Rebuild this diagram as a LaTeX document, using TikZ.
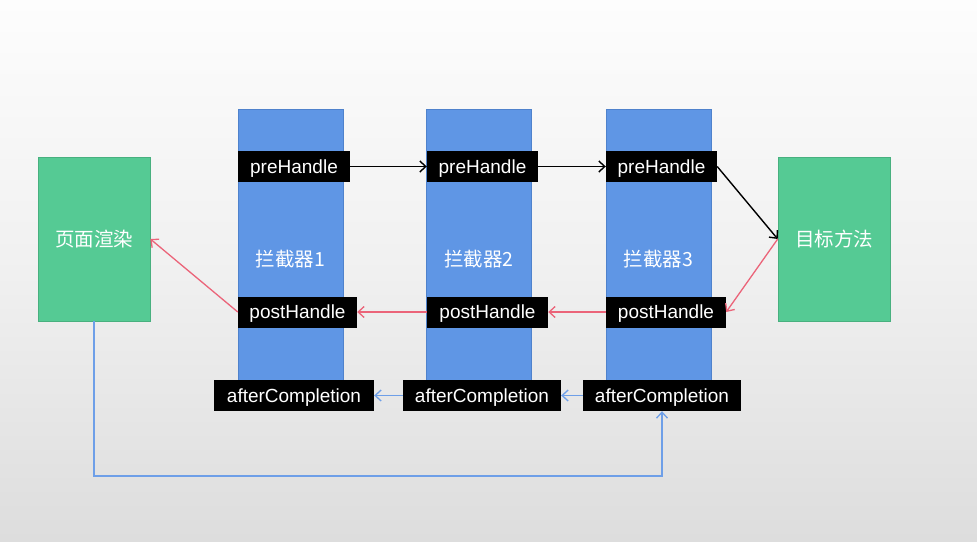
\documentclass[tikz,border=0pt]{standalone}
\usepackage{fontspec}
\setmainfont{Liberation Sans}
\newfontfamily\cjk{Noto Sans CJK SC}
\usetikzlibrary{arrows.meta}
\definecolor{colblue}{HTML}{5F96E5}
\definecolor{colblueedge}{HTML}{4F82CC}
\definecolor{boxgreen}{HTML}{55CA94}
\definecolor{boxgreenedge}{HTML}{48B07F}
\definecolor{linered}{HTML}{EB6479}
\definecolor{lineblue}{HTML}{6E9FE8}
\definecolor{bgtop}{HTML}{FDFDFD}
\definecolor{bgbot}{HTML}{DDDDDD}
\tikzset{
  column/.style={draw=colblueedge, line width=0.6pt, fill=colblue, minimum width=105pt, minimum height=301pt, inner sep=0pt, text=white, font=\cjk\fontsize{19.5}{22}\selectfont},
  greenbox/.style={draw=boxgreenedge, line width=0.6pt, fill=boxgreen, minimum width=112pt, minimum height=164pt, inner sep=0pt, text=white, font=\cjk\fontsize{19.5}{22}\selectfont},
  tag/.style={fill=black, minimum height=31pt, inner sep=0pt, text height=15pt, text depth=2pt, text=white, font=\fontsize{19}{22}\selectfont},
  blk/.style={draw=black, line width=1.4pt, -{Straight Barb[length=6pt,width=11pt]}},
  redarr/.style={draw=linered, line width=1.3pt, -{Straight Barb[length=6pt,width=11pt]}},
  bluearr/.style={draw=lineblue, line width=1.3pt, -{Straight Barb[length=6pt,width=11pt]}},
}
\begin{document}
\begin{tikzpicture}[x=1pt,y=-1pt]
\useasboundingbox (0,0) rectangle (977,541);
\shade[top color=bgtop, bottom color=bgbot, middle color=bgtop!60!bgbot] (0,0) rectangle (977,541);
% columns
\node[column] (c1) at (290.5,259.5) {拦截器1};
\node[column] (c2) at (479,259.5) {拦截器2};
\node[column] (c3) at (658.5,259.5) {拦截器3};
% green boxes
\node[greenbox] (render) at (94,239) {页面渲染};
\node[greenbox] (target) at (834,239) {目标方法};
% preHandle
\node[tag, minimum width=112pt] (pre1) at (294,166.5) {preHandle};
\node[tag, minimum width=111pt] (pre2) at (482.5,166.5) {preHandle};
\node[tag, minimum width=111pt] (pre3) at (661.5,166.5) {preHandle};
% postHandle
\node[tag, minimum width=119pt] (post1) at (297.5,312) {postHandle};
\node[tag, minimum width=121pt] (post2) at (487.5,312) {postHandle};
\node[tag, minimum width=120pt] (post3) at (666,312) {postHandle};
% afterCompletion
\node[tag, minimum width=160pt] (after1) at (294,395.5) {afterCompletion};
\node[tag, minimum width=158pt] (after2) at (482,395.5) {afterCompletion};
\node[tag, minimum width=158pt] (after3) at (662,395.5) {afterCompletion};
% arrows
\draw[blk] (pre1.east) -- (pre2.west);
\draw[blk] (pre2.east) -- (pre3.west);
\draw[blk] (pre3.east) -- (target.west);
\draw[redarr] (target.west) -- (post3.east);
\draw[redarr] (post3.west) -- (post2.east);
\draw[redarr] (post2.west) -- (post1.east);
\draw[redarr] (post1.west) -- (render.east);
\draw[bluearr] (after3.west) -- (after2.east);
\draw[bluearr] (after2.west) -- (after1.east);
\coordinate (loop) at (0,476);
\draw[bluearr] (render.south) -- (render.south |- loop) -| (after3.south);
\end{tikzpicture}
\end{document}
